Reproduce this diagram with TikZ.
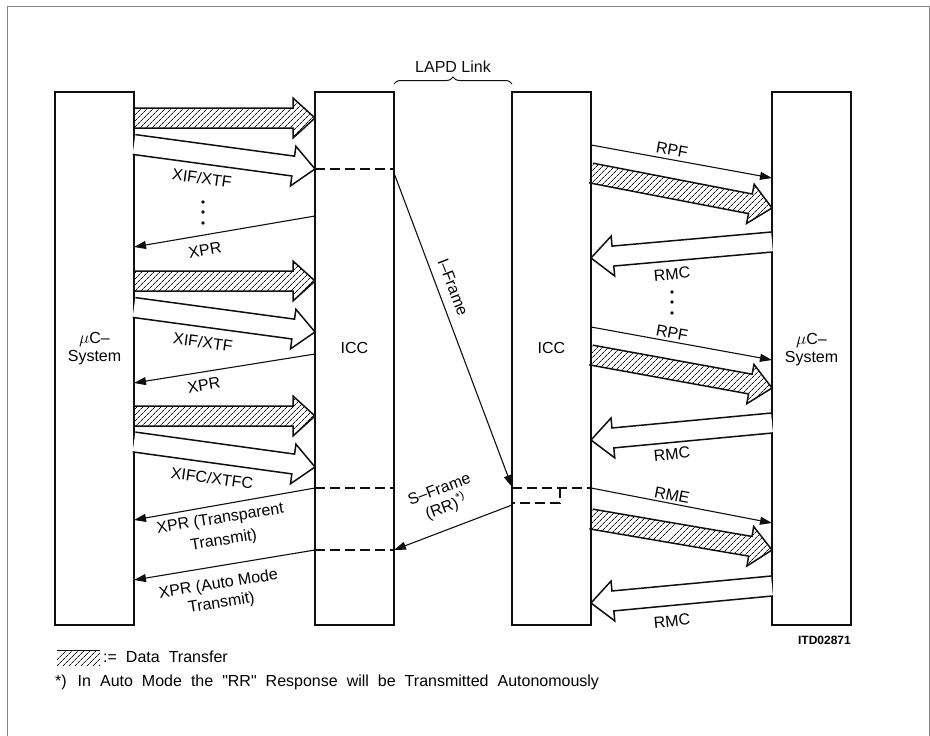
\documentclass[tikz,border=0pt]{standalone}
\usepackage{fontspec}
\setmainfont{Liberation Sans}
\usetikzlibrary{arrows.meta, positioning, calc, patterns.meta, decorations.pathreplacing}
\definecolor{ink}{RGB}{15, 15, 15}
\definecolor{framegray}{RGB}{130, 130, 130}

% broad arrow with shaft and head, open at its start
\newcommand{\fatarrow}[3][]{%
  \coordinate (fa-s) at (#2);
  \coordinate (fa-t) at (#3);
  \coordinate (fa-h) at ($(fa-t)!22pt!(fa-s)$);
  \draw[fat, #1] ($(fa-s)!10pt!90:(fa-t)$) -- ($(fa-h)!10pt!90:(fa-t)$) -- ($(fa-h)!20pt!90:(fa-t)$) -- (fa-t)
    -- ($(fa-h)!20pt!-90:(fa-t)$) -- ($(fa-h)!10pt!-90:(fa-t)$) -- ($(fa-s)!10pt!-90:(fa-t)$);
}

\begin{document}
\begin{tikzpicture}[x=1pt, y=-1pt,
            node distance=181pt,
            box/.style={draw=ink, line width=2.6pt, minimum width=79pt, minimum height=533pt, inner sep=0pt, outer sep=0pt, align=center, font=\fontsize{16}{18}\selectfont},
            lbl/.style={font=\fontsize{16}{19}\selectfont, inner sep=1pt, align=center},
            msg/.style={draw=ink, line width=1.1pt, -{Triangle[length=12pt, width=8pt]}},
            fat/.style={draw=ink, line width=1.5pt, fill=white, line join=miter},
            hatched/.style={pattern={Lines[angle=45, distance=4pt, line width=0.8pt]}, pattern color=ink},
            link/.style={draw=ink, line width=1.1pt, dash pattern=on 10pt off 5pt}
        ]
            \useasboundingbox (0,0) rectangle (930,736);
            \draw[framegray, line width=0.8pt] (7,736) -- (7,6) -- (929,6) -- (929,736);

            % the four blocks
            \node[box] (lsys) at (94.5,358.5) {$\mu$C--\\System\\[6pt]};
            \node[box, right=of lsys] (licc) {ICC\\[3pt]};
            \node[box, right=118pt of licc] (ricc) {ICC\\[3pt]};
            \node[box, right=of ricc] (rsys) {$\mu$C--\\System\\[4pt]};

            \draw[ink, line width=1pt, decorate, decoration={brace, amplitude=7pt}] (licc.east |- 0,84) -- (ricc.west |- 0,84) node[lbl, midway, above=10pt] (lapd) {LAPD Link};

            % transmit side
            \fatarrow[hatched]{lsys.east |- 0,118}{licc.west |- 0,118}
            \fatarrow{lsys.east |- 0,144.5}{licc.west |- 0,169}
            \node[lbl, rotate=-7.7] (xif1) at (202,178) {XIF/XTF};
            \foreach \y in {202,212,223} \fill[ink] (203,\y) circle (1.8pt);
            \draw[msg] (licc.west |- 0,216) -- (lsys.east |- 0,247);
            \node[lbl, rotate=9.7] (xpr1) at (205,250) {XPR};

            \fatarrow[hatched]{lsys.east |- 0,281}{licc.west |- 0,281}
            \fatarrow{lsys.east |- 0,307.5}{licc.west |- 0,332}
            \node[lbl, rotate=-7.7] (xif2) at (203,342) {XIF/XTF};
            \draw[msg] (licc.west |- 0,354) -- (lsys.east |- 0,383);
            \node[lbl, rotate=9.2] (xpr2) at (204,385) {XPR};

            \fatarrow[hatched]{lsys.east |- 0,416}{licc.west |- 0,416}
            \fatarrow{lsys.east |- 0,442}{licc.west |- 0,467}
            \node[lbl, rotate=-7.7] (xifc) at (212,478) {XIFC/XTFC};
            \draw[msg] (licc.west |- 0,488) -- (lsys.east |- 0,520);
            \node[lbl, rotate=9, font=\fontsize{16}{22}\selectfont] (xpr3) at (222,530) {XPR (Transparent\\Transmit)};
            \draw[msg] (licc.west |- 0,550) -- (lsys.east |- 0,580);
            \node[lbl, rotate=9, font=\fontsize{16}{19}\selectfont] (xpr4) at (220,594) {XPR (Auto Mode\\Transmit)};

            % LAPD link
            \draw[link] (licc.west |- 0,169) -- (licc.east |- 0,169);
            \draw[msg] (licc.east |- 0,173) -- (ricc.west |- 0,487);
            \node[lbl, rotate=-69] (iframe) at (453,287) {I--Frame};
            \draw[link] (licc.west |- 0,488) -- (licc.east |- 0,488);
            \draw[link] (licc.west |- 0,550) -- (licc.east |- 0,550);
            \draw[link] (ricc.west |- 0,488) -- (ricc.east |- 0,488);
            \draw[link] (ricc.west |- 0,488) ++(48,0) -- ++(0,15) -- (ricc.west |- 0,503);
            \draw[msg] (ricc.west |- 0,505) -- (licc.east |- 0,550);
            \node[lbl, rotate=20.7] (sframe) at (443,499) {S--Frame\\(RR)\textsuperscript{*)}};

            % receive side
            \draw[msg] (ricc.east |- 0,145) -- (rsys.west |- 0,178);
            \node[lbl, rotate=-10.3] (rpf1) at (672,150) {RPF};
            \fatarrow[hatched]{ricc.east |- 0,173}{rsys.west |- 0,208}
            \fatarrow{rsys.west |- 0,242}{ricc.east |- 0,258}
            \node[lbl, rotate=5] (rmc1) at (672,274) {RMC};
            \foreach \y in {292,302,313} \fill[ink] (672,\y) circle (1.8pt);

            \draw[msg] (ricc.east |- 0,327) -- (rsys.west |- 0,360);
            \node[lbl, rotate=-10.3] (rpf2) at (672,333) {RPF};
            \fatarrow[hatched]{ricc.east |- 0,355}{rsys.west |- 0,388}
            \fatarrow{rsys.west |- 0,423}{ricc.east |- 0,440}
            \node[lbl, rotate=5.5] (rmc2) at (672,454) {RMC};

            \draw[msg] (ricc.east |- 0,488) -- (rsys.west |- 0,523);
            \node[lbl, rotate=-11] (rme) at (672,495) {RME};
            \fatarrow[hatched]{ricc.east |- 0,519}{rsys.west |- 0,550}
            \fatarrow{rsys.west |- 0,586}{ricc.east |- 0,603}
            \node[lbl, rotate=5.5] (rmc3) at (672,621) {RMC};

            \node[font=\fontsize{12}{14}\selectfont\bfseries, anchor=east, inner sep=0pt] (itd) at (rsys.east |- 0,640) {ITD02871};

            % legend
            \path[hatched] (57,650) rectangle (100,665);
            \draw[ink, line width=0.8pt] (57,650) -- (100,650);
            \node[lbl, anchor=west] (legend) at (102,657) {\spaceskip=9pt := Data Transfer};
            \node[lbl, anchor=west] (note) at (54,682) {\spaceskip=9pt *)\hspace{11pt}In Auto Mode the \textquotedbl RR\textquotedbl\ Response will be Transmitted Autonomously};
        \end{tikzpicture}
\end{document}
